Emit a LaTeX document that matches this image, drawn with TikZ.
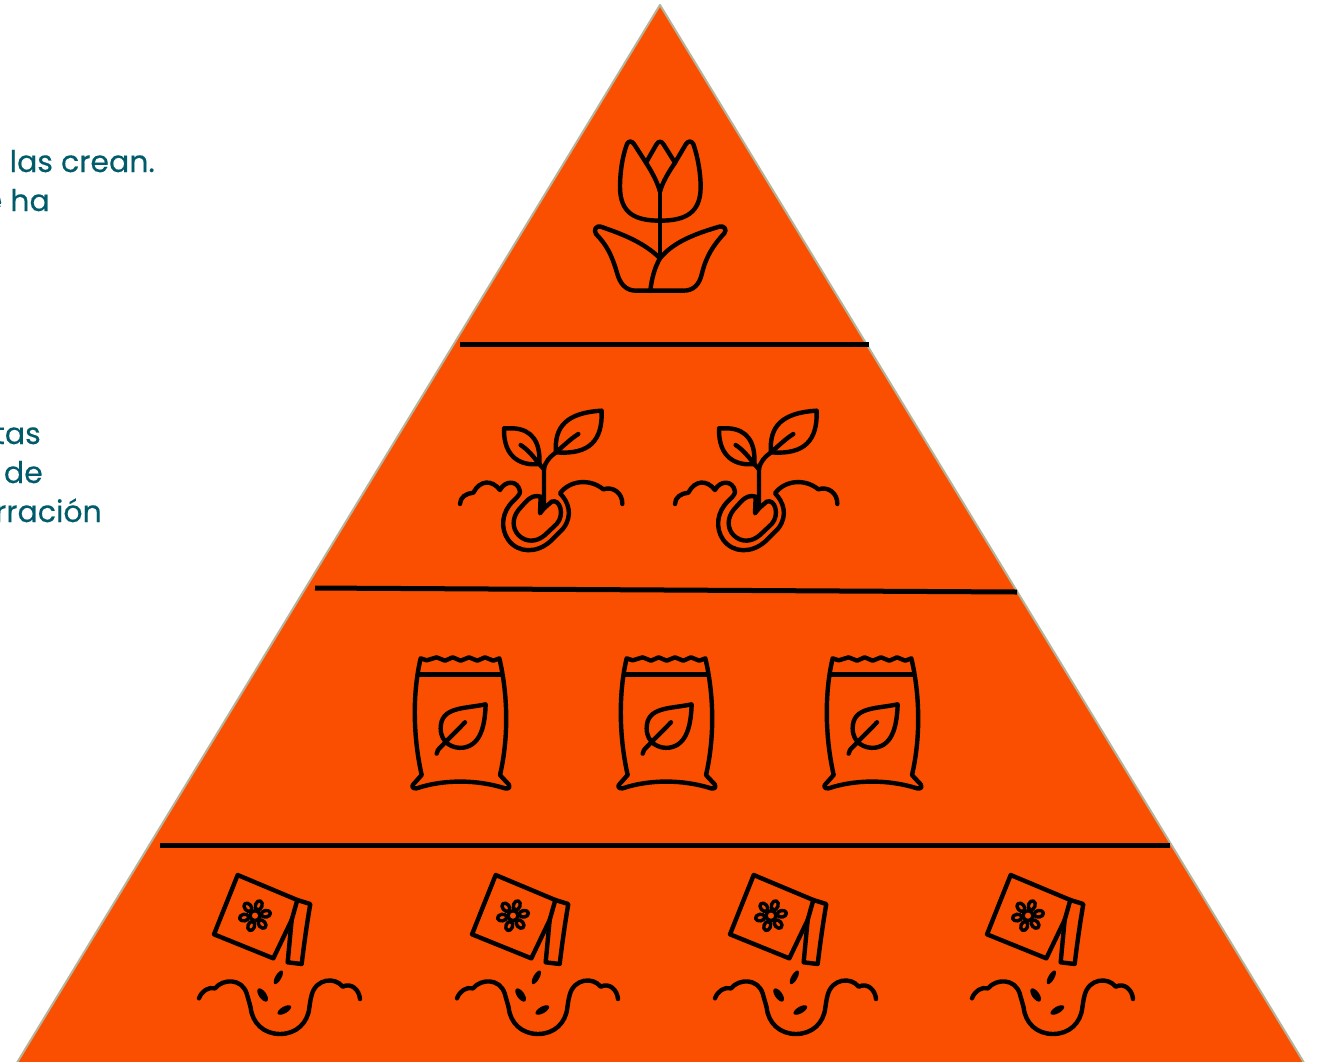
\documentclass[tikz,border=0pt]{standalone}
\usepackage{fontspec}
\newfontfamily\lblfont{Poppins}[FakeBold=0.3]
\definecolor{pyr}{HTML}{FA4F00}
\definecolor{pyredge}{HTML}{B5B39A}
\definecolor{teal}{HTML}{005B6B}
\tikzset{
  icon/.style={line width=4.4pt,line cap=round,line join=round,draw=black},
  rule/.style={line width=5pt,draw=black},
  lbl/.style={anchor=base east,inner sep=0pt,text=teal,font=\lblfont\fontsize{30}{32}\selectfont}
}
\newcommand{\tulipicon}[2]{\begin{scope}[shift={(#1,#2)},x=0.3333pt,y=-0.3333pt,icon]
  \draw (270,215) .. controls (262,185) and (245,155) .. (228,128) -- (192,72) .. controls (185,62) and (176,62) .. (171,72)
    .. controls (155,115) and (150,165) .. (150,200) .. controls (150,280) and (195,302) .. (270,302)
    .. controls (345,302) and (392,280) .. (392,200) .. controls (392,165) and (385,115) .. (370,72)
    .. controls (364,62) and (355,62) .. (348,72) -- (315,128) .. controls (297,155) and (278,185) .. (270,215);
  \draw (228,128) -- (260,72) .. controls (266,63) and (274,63) .. (280,72) -- (315,128);
  \draw (270,215) -- (270,415);
  \draw (270,415) .. controls (220,365) and (150,340) .. (92,320) .. controls (78,316) and (70,330) .. (78,342)
    .. controls (110,375) and (125,405) .. (140,455) .. controls (150,495) and (170,512) .. (198,512)
    -- (340,512) .. controls (370,512) and (388,495) .. (396,460) .. controls (408,410) and (430,375) .. (463,340)
    .. controls (472,328) and (462,316) .. (448,320) .. controls (380,340) and (310,365) .. (270,415)
    .. controls (255,440) and (245,475) .. (241,512);
\end{scope}}
\newcommand{\sprouticon}[2]{\begin{scope}[shift={(#1,#2)},x=0.3333pt,y=-0.3333pt,icon]
  \draw (162,85) -- (190,85) .. controls (245,88) and (272,125) .. (268,192) .. controls (215,198) and (160,175) .. (162,85) -- cycle;
  \draw (212,135) .. controls (235,150) and (250,170) .. (268,192);
  \draw (455,32) .. controls (350,38) and (312,80) .. (318,157) .. controls (420,165) and (458,120) .. (455,32) -- cycle;
  \draw (385,102) .. controls (360,118) and (340,138) .. (318,157) .. controls (300,170) and (285,185) .. (282,208);
  \draw (268,192) -- (282,208) -- (282,325);
  \draw (272,290) .. controls (255,284) and (240,292) .. (228,305) -- (207,328) .. controls (185,355) and (187,385) .. (205,405)
    .. controls (230,430) and (262,425) .. (285,405) -- (320,372) .. controls (345,345) and (330,295) .. (305,305) -- (282,325) -- (270,340) -- (272,290);
  \draw (30,312) .. controls (30,292) and (48,280) .. (70,278) .. controls (90,240) and (125,238) .. (150,270)
    .. controls (165,240) and (205,240) .. (210,275) .. controls (210,285) and (200,292) .. (190,303)
    .. controls (155,335) and (150,385) .. (175,420) .. controls (205,460) and (260,460) .. (300,425)
    -- (340,385) .. controls (370,345) and (355,305) .. (330,280) .. controls (360,240) and (420,235) .. (460,268)
    .. controls (490,258) and (518,280) .. (517,312);
\end{scope}}
\newcommand{\bagicon}[2]{\begin{scope}[shift={(#1,#2)},x=0.3333pt,y=-0.3333pt,icon]
  \draw (62,40) -- (80,46) -- (110,37) -- (135,47) -- (158,37) -- (182,47) -- (207,37) -- (232,47) -- (255,37) -- (280,47) -- (298,40)
    .. controls (322,140) and (328,270) .. (300,390) -- (326,418) .. controls (332,428) and (325,432) .. (315,430)
    .. controls (230,403) and (130,403) .. (50,430) .. controls (38,432) and (34,424) .. (40,418) -- (65,390)
    .. controls (38,270) and (38,140) .. (62,40) -- cycle;
  \draw (55,88) -- (305,88);
  \draw (257,178) .. controls (190,192) and (122,185) .. (122,250) .. controls (122,295) and (160,312) .. (190,308)
    .. controls (245,300) and (255,235) .. (257,178) -- cycle;
  \draw (195,232) -- (125,303) .. controls (115,312) and (110,320) .. (110,326);
\end{scope}}
\newcommand{\seedicon}[2]{\begin{scope}[shift={(#1,#2)},x=0.3333pt,y=-0.3333pt,icon]
  \draw (143,30) -- (72,208) -- (250,280) -- (305,165) -- (322,105) -- cycle;
  \draw (322,105) -- (361,117) .. controls (350,180) and (342,240) .. (335,297) -- (293,292) -- (305,165);
  \draw[line width=3.4pt] (195,152) circle[radius=15];
  \foreach \a in {-110,-50,10,70,130,190}
    \draw[line width=3.4pt,rotate around={\a:(195,152)}] (228,152) ellipse[x radius=14,y radius=10];
  \fill[rotate around={60:(265,337)}] (265,337) ellipse[x radius=23,y radius=9];
  \fill[rotate around={-55:(218,390)}] (218,390) ellipse[x radius=23,y radius=11];
  \fill[rotate around={30:(283,435)}] (283,435) ellipse[x radius=23,y radius=10];
  \draw (27,400) .. controls (35,378) and (55,365) .. (75,370) .. controls (100,340) and (155,340) .. (170,385)
    .. controls (174,400) and (178,412) .. (182,428) .. controls (187,475) and (222,507) .. (270,507)
    .. controls (318,507) and (353,475) .. (358,428) .. controls (360,415) and (361,405) .. (365,390)
    .. controls (378,340) and (435,335) .. (458,365) .. controls (485,352) and (508,375) .. (510,402);
\end{scope}}
\begin{document}
\begin{tikzpicture}[x=1pt,y=-1pt]
\useasboundingbox (0,0) rectangle (1317,1061);
\clip (0,0) rectangle (1317,1061);
\fill[white] (0,0) rectangle (1317,1061);
\draw[fill=pyr,draw=pyredge,line width=2pt,line join=round] (660,5) -- (1306,1066) -- (15,1066) -- cycle;
\coordinate (r1l) at (460,344); \coordinate (r1r) at (869,344);
\coordinate (r2l) at (315,588); \coordinate (r2r) at (1017,592);
\coordinate (r3l) at (160,845); \coordinate (r3r) at (1170,845);
\draw[rule] (r1l) -- (r1r);
\draw[rule] (r2l) -- (r2r);
\draw[rule] (r3l) -- (r3r);
\tulipicon{570}{120}
\sprouticon{450}{400}
\sprouticon{665}{400}
\bagicon{400}{645}
\bagicon{606}{645}
\bagicon{812}{645}
\seedicon{190}{865}
\seedicon{448}{865}
\seedicon{706}{865}
\seedicon{963}{865}
\node[lbl] (t1) at (155,172) {las crean.};
\node[lbl] (t2) at (50,211) {e ha};
\node[lbl] (t3) at (41,444) {tas};
\node[lbl] (t4) at (43,483) {de};
\node[lbl] (t5) at (102,522) {rración};
\end{tikzpicture}
\end{document}
